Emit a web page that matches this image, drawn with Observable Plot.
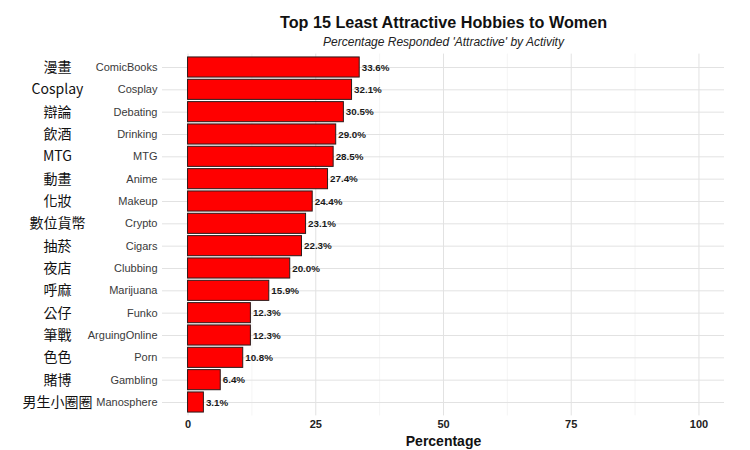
<!DOCTYPE html>
<html>
<head>
<meta charset="utf-8">
<script src="https://cdn.jsdelivr.net/npm/d3@7"></script>
<script src="https://cdn.jsdelivr.net/npm/@observablehq/plot@0.6"></script>
<style>
  html, body { margin: 0; padding: 0; background: #fff; }
  #chart svg { display: block; }
</style>
</head>
<body>
<div id="chart"></div>
<script>
const hobbies = ["ComicBooks","Cosplay","Debating","Drinking","MTG","Anime","Makeup","Crypto","Cigars","Clubbing","Marijuana","Funko","ArguingOnline","Porn","Gambling","Manosphere"];
const chineseLabels = ["漫畫","Cosplay","辯論","飲酒","MTG","動畫","化妝","數位貨幣","抽菸","夜店","呼麻","公仔","筆戰","色色","賭博","男生小圈圈"];
const percentages = [33.6,32.1,30.5,29.0,28.5,27.4,24.4,23.1,22.3,20.0,15.9,12.3,12.3,10.8,6.4,3.1];
const xTicks = [0,25,50,75,100];
const xMinorTicks = [12.5,37.5,62.5,87.5];
const titleText = "Top 15 Least Attractive Hobbies to Women";
const subtitleText = "Percentage Responded 'Attractive' by Activity";
const xLabel = "Percentage";

const data = hobbies.map((h, i) => ({hobby: h, zh: chineseLabels[i], value: percentages[i]}));
const zhMap = new Map(hobbies.map((h, i) => [h, chineseLabels[i]]));

const font = "'Liberation Sans', Arial, Helvetica, sans-serif";

const chart = Plot.plot({
  width: 750,
  height: 450,
  marginLeft: 162,
  marginRight: 26,
  marginTop: 53.6,
  marginBottom: 34.6,
  style: {fontFamily: font, background: "#fff", overflow: "visible"},
  x: {domain: [-5, 105], axis: null},
  y: {domain: hobbies, paddingInner: 0.1, paddingOuter: 0.15, round: false, axis: null},
  marks: [
    Plot.gridX(xMinorTicks, {stroke: "#eeeeee", strokeOpacity: 1, strokeWidth: 0.6}),
    Plot.gridX(xTicks, {stroke: "#e2e2e2", strokeOpacity: 1, strokeWidth: 1}),
    Plot.gridY(hobbies, {y: d => d, stroke: "#e2e2e2", strokeOpacity: 1, strokeWidth: 1}),
    Plot.barX(data, {x1: 0, x2: "value", y: "hobby", fill: "#ff0000", stroke: "#2b1a1a", strokeWidth: 1}),
    Plot.text(data, {x: "value", y: "hobby", text: d => d.value.toFixed(1) + "%", textAnchor: "start", dx: 2, fontSize: 9.8, fontWeight: "bold", fill: "#1a1a1a"}),
    Plot.axisY({tickSize: 0, tickPadding: 5, fontSize: 11, color: "#3a3a3a", label: null}),
    Plot.axisY({tickSize: 0, tickPadding: 105, textAnchor: "middle", fontSize: 14, color: "#111", label: null, tickFormat: d => zhMap.get(d), fontFamily: "'Noto Sans CJK TC', 'Liberation Sans', sans-serif"}),
    Plot.axisX(xTicks, {tickSize: 0, tickPadding: 4, fontSize: 11, fontWeight: "bold", color: "#222", label: null}),
    Plot.text([xLabel], {frameAnchor: "bottom", dy: 26, lineAnchor: "middle", fontSize: 14, fontWeight: "bold", fill: "#111"}),
    Plot.text([titleText], {frameAnchor: "top", dy: -38, fontSize: 16.2, fontWeight: "bold", fill: "#111"}),
    Plot.text([subtitleText], {frameAnchor: "top", dy: -17, fontSize: 12, fontStyle: "italic", fill: "#222"})
  ]
});
document.getElementById("chart").appendChild(chart);
</script>
</body>
</html>
